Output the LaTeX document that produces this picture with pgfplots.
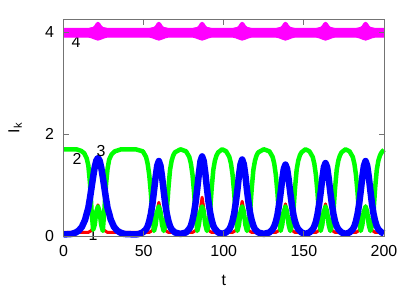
\documentclass[border=0pt]{standalone}
\usepackage{fontspec}
\setmainfont{Liberation Sans}
\usepackage{pgfplots}
\pgfplotsset{compat=1.18}
\definecolor{cR}{RGB}{255,0,0}
\definecolor{cG}{RGB}{0,255,0}
\definecolor{cB}{RGB}{0,0,255}
\definecolor{cM}{RGB}{255,0,255}
\newcommand{\lbl}{\fontsize{16}{18}\selectfont}
\begin{document}
\begin{tikzpicture}
\begin{axis}[
  scale only axis, width=320.5bp, height=216bp,
  xmin=0, xmax=200, ymin=0, ymax=4.235,
  xtick={0,50,100,150,200}, ytick={0,2,4},
  tick align=inside, major tick length=5bp,
  tick style={black!55, line width=0.8bp},
  axis line style={black!55, line width=1bp},
  ticklabel style={font=\lbl},
  /pgf/number format/assume math mode=true,
  xticklabel style={yshift=-6bp},
  yticklabel style={xshift=-6bp},
  xlabel={t}, ylabel={I\textsubscript{k}},
  every axis x label/.style={at={(axis description cs:0.5,-0.204)}, anchor=center, font=\lbl},
  every axis y label/.style={at={(axis description cs:-0.151,0.5)}, anchor=center, rotate=90, font=\lbl},
  clip=false, axis on top,
  every axis plot/.append style={line join=round, mark=none},
]
\node[font=\lbl, inner sep=0pt] at (axis cs:7.8,3.80) {4};
\node[font=\lbl, inner sep=0pt] at (axis cs:18.4,0.02) {1};
% series 1 (red)
\addplot[cR, line width=3bp] coordinates {
(0,0.07) (13,0.07) (15.5,0.07) (17.5,0.11) (18.5,0.17) (19.5,0.28) (20.5,0.48) (21.5,0.61) (22.5,0.48) (23.5,0.28) (24.5,0.17) (25.5,0.11) (27.5,0.07)
(53.5,0.07) (55.5,0.11) (56.5,0.17) (57.5,0.28) (58.5,0.50) (59.5,0.66) (60.5,0.50) (61.5,0.28) (62.5,0.17) (63.5,0.11) (65.5,0.07)
(80.5,0.07) (82.5,0.11) (83.5,0.17) (84.5,0.30) (85.5,0.55) (86.5,0.76) (87.5,0.55) (88.5,0.30) (89.5,0.17) (90.5,0.11) (92.5,0.07)
(105.5,0.07) (107.5,0.11) (108.5,0.17) (109.5,0.29) (110.5,0.50) (111.5,0.68) (112.5,0.50) (113.5,0.29) (114.5,0.17) (115.5,0.11) (117.5,0.07)
(132.5,0.07) (134.5,0.11) (135.5,0.17) (136.5,0.28) (137.5,0.48) (138.5,0.63) (139.5,0.48) (140.5,0.28) (141.5,0.17) (142.5,0.11) (144.5,0.07)
(157.5,0.07) (159.5,0.11) (160.5,0.17) (161.5,0.28) (162.5,0.48) (163.5,0.63) (164.5,0.48) (165.5,0.28) (166.5,0.17) (167.5,0.11) (169.5,0.07)
(182.5,0.07) (184.5,0.11) (185.5,0.17) (186.5,0.28) (187.5,0.46) (188.5,0.59) (189.5,0.46) (190.5,0.28) (191.5,0.17) (192.5,0.11) (194.5,0.07) (200,0.07)
};
% series 2 (green)
\addplot[cG, line width=4.5bp] coordinates {
(0,1.70) (8,1.70) (11,1.67) (13,1.62) (14.5,1.52) (15.5,1.38) (16.5,1.05) (17.5,0.5) (18.5,0.12) (19.5,0.22) (20.5,0.48) (21.5,0.58) (22.5,0.48) (23.5,0.22) (24.5,0.10) (25.5,0.5) (26.5,1.0) (27.5,1.32) (28.5,1.5) (30,1.6) (32,1.66) (36,1.70) (45,1.70)
(49.5,1.66) (51.5,1.55) (52.5,1.42) (53.5,1.20) (54.5,0.85) (55.5,0.40) (56.5,0.10) (57.5,0.22) (58.5,0.48) (59.5,0.58) (60.5,0.48) (61.5,0.22) (62.5,0.10) (63.5,0.20) (64.5,0.50) (65.5,0.95) (66.5,1.30) (67.5,1.48) (68.5,1.58) (69.5,1.64) (73,1.70)
(76.5,1.66) (78.5,1.55) (79.5,1.42) (80.5,1.20) (81.5,0.85) (82.5,0.40) (83.5,0.10) (84.5,0.22) (85.5,0.48) (86.5,0.58) (87.5,0.48) (88.5,0.22) (89.5,0.10) (90.5,0.20) (91.5,0.50) (92.5,0.95) (93.5,1.30) (94.5,1.48) (95.5,1.58) (96.5,1.64) (99,1.70)
(101.5,1.66) (103.5,1.55) (104.5,1.42) (105.5,1.20) (106.5,0.85) (107.5,0.40) (108.5,0.10) (109.5,0.22) (110.5,0.48) (111.5,0.58) (112.5,0.48) (113.5,0.22) (114.5,0.10) (115.5,0.20) (116.5,0.50) (117.5,0.95) (118.5,1.30) (119.5,1.48) (120.5,1.58) (121.5,1.64) (125,1.70)
(128.5,1.66) (130.5,1.55) (131.5,1.42) (132.5,1.20) (133.5,0.85) (134.5,0.40) (135.5,0.10) (136.5,0.22) (137.5,0.48) (138.5,0.58) (139.5,0.48) (140.5,0.22) (141.5,0.10) (142.5,0.20) (143.5,0.50) (144.5,0.95) (145.5,1.30) (146.5,1.48) (147.5,1.58) (148.5,1.64) (151,1.70)
(153.5,1.66) (155.5,1.55) (156.5,1.42) (157.5,1.20) (158.5,0.85) (159.5,0.40) (160.5,0.10) (161.5,0.22) (162.5,0.48) (163.5,0.58) (164.5,0.48) (165.5,0.22) (166.5,0.10) (167.5,0.20) (168.5,0.50) (169.5,0.95) (170.5,1.30) (171.5,1.48) (172.5,1.58) (173.5,1.64) (176,1.70)
(178.5,1.66) (180.5,1.55) (181.5,1.42) (182.5,1.20) (183.5,0.85) (184.5,0.40) (185.5,0.10) (186.5,0.22) (187.5,0.48) (188.5,0.58) (189.5,0.48) (190.5,0.22) (191.5,0.10) (192.5,0.20) (193.5,0.50) (194.5,0.95) (195.5,1.30) (196.5,1.48) (197.5,1.58) (198.5,1.64) (200,1.69)
};
% series 3 (blue)
\addplot[cB, line width=6.5bp] coordinates {
(0,0.03) (5,0.04) (7.5,0.066) (9.5,0.105) (11.5,0.18) (13.5,0.32) (14.5,0.44) (15.5,0.55) (16.5,0.74) (17.5,0.95) (18.5,1.16) (19.5,1.35) (20.5,1.48) (21.5,1.53) (22.5,1.48) (23.5,1.35) (24.5,1.16) (25.5,0.95) (26.5,0.74) (27.5,0.55) (28.5,0.44) (29.5,0.32) (31.5,0.18) (33.5,0.105) (35.5,0.066) (38,0.04) (45,0.03)
(47,0.04) (49.5,0.07) (51.5,0.13) (52.5,0.19) (53.5,0.29) (54.5,0.43) (55.5,0.63) (56.5,0.89) (57.5,1.16) (58.5,1.38) (59.5,1.47) (60.5,1.38) (61.5,1.16) (62.5,0.89) (63.5,0.63) (64.5,0.43) (65.5,0.29) (66.5,0.19) (67.5,0.13) (69.5,0.07) (73,0.04)
(76.5,0.07) (78.5,0.14) (79.5,0.20) (80.5,0.31) (81.5,0.46) (82.5,0.67) (83.5,0.94) (84.5,1.23) (85.5,1.47) (86.5,1.56) (87.5,1.47) (88.5,1.23) (89.5,0.94) (90.5,0.67) (91.5,0.46) (92.5,0.31) (93.5,0.20) (94.5,0.14) (96.5,0.07) (99,0.04)
(101.5,0.07) (103.5,0.13) (104.5,0.20) (105.5,0.30) (106.5,0.44) (107.5,0.65) (108.5,0.90) (109.5,1.19) (110.5,1.41) (111.5,1.50) (112.5,1.41) (113.5,1.19) (114.5,0.90) (115.5,0.65) (116.5,0.44) (117.5,0.30) (118.5,0.20) (119.5,0.13) (121.5,0.07) (125,0.04)
(128.5,0.07) (130.5,0.13) (131.5,0.19) (132.5,0.28) (133.5,0.41) (134.5,0.61) (135.5,0.85) (136.5,1.11) (137.5,1.32) (138.5,1.40) (139.5,1.32) (140.5,1.11) (141.5,0.85) (142.5,0.61) (143.5,0.41) (144.5,0.28) (145.5,0.19) (146.5,0.13) (148.5,0.07) (151,0.04)
(153.5,0.07) (155.5,0.13) (156.5,0.19) (157.5,0.28) (158.5,0.42) (159.5,0.62) (160.5,0.86) (161.5,1.13) (162.5,1.35) (163.5,1.43) (164.5,1.35) (165.5,1.13) (166.5,0.86) (167.5,0.62) (168.5,0.42) (169.5,0.28) (170.5,0.19) (171.5,0.13) (173.5,0.07) (176,0.04)
(178.5,0.07) (180.5,0.13) (181.5,0.19) (182.5,0.29) (183.5,0.43) (184.5,0.63) (185.5,0.89) (186.5,1.16) (187.5,1.38) (188.5,1.47) (189.5,1.38) (190.5,1.16) (191.5,0.89) (192.5,0.63) (193.5,0.43) (194.5,0.29) (195.5,0.19) (196.5,0.13) (198.5,0.07) (200,0.05)
};
% series 4 (magenta) band: upper envelope then lower envelope
\addplot[cM, fill=cM, line width=1bp] coordinates {
(0,4.07) (15.5,4.07) (18.5,4.09) (19.5,4.12) (20.5,4.17) (21.5,4.19) (22.5,4.17) (23.5,4.12) (24.5,4.09) (27.5,4.07)
(53.5,4.07) (56.5,4.09) (57.5,4.12) (58.5,4.17) (59.5,4.19) (60.5,4.17) (61.5,4.12) (62.5,4.09) (65.5,4.07)
(80.5,4.07) (83.5,4.09) (84.5,4.12) (85.5,4.17) (86.5,4.19) (87.5,4.17) (88.5,4.12) (89.5,4.09) (92.5,4.07)
(105.5,4.07) (108.5,4.09) (109.5,4.12) (110.5,4.17) (111.5,4.19) (112.5,4.17) (113.5,4.12) (114.5,4.09) (117.5,4.07)
(132.5,4.07) (135.5,4.09) (136.5,4.12) (137.5,4.17) (138.5,4.19) (139.5,4.17) (140.5,4.12) (141.5,4.09) (144.5,4.07)
(157.5,4.07) (160.5,4.09) (161.5,4.12) (162.5,4.17) (163.5,4.19) (164.5,4.17) (165.5,4.12) (166.5,4.09) (169.5,4.07)
(182.5,4.07) (185.5,4.09) (186.5,4.12) (187.5,4.17) (188.5,4.19) (189.5,4.17) (190.5,4.12) (191.5,4.09) (194.5,4.07) (200,4.07)
(200,3.90) (194.5,3.90) (192.5,3.885) (190.5,3.86) (188.5,3.84) (186.5,3.86) (184.5,3.885) (182.5,3.90)
(169.5,3.90) (167.5,3.885) (165.5,3.86) (163.5,3.84) (161.5,3.86) (159.5,3.885) (157.5,3.90)
(144.5,3.90) (142.5,3.885) (140.5,3.86) (138.5,3.84) (136.5,3.86) (134.5,3.885) (132.5,3.90)
(117.5,3.90) (115.5,3.885) (113.5,3.86) (111.5,3.84) (109.5,3.86) (107.5,3.885) (105.5,3.90)
(92.5,3.90) (90.5,3.885) (88.5,3.86) (86.5,3.84) (84.5,3.86) (82.5,3.885) (80.5,3.90)
(65.5,3.90) (63.5,3.885) (61.5,3.86) (59.5,3.84) (57.5,3.86) (55.5,3.885) (53.5,3.90)
(27.5,3.90) (25.5,3.885) (23.5,3.86) (21.5,3.84) (19.5,3.86) (17.5,3.885) (15.5,3.90) (0,3.90)
} -- cycle;
\node[font=\lbl, inner sep=0pt] at (axis cs:8.4,1.51) {2};
\node[font=\lbl, inner sep=0pt] at (axis cs:23.4,1.67) {3};
\end{axis}
\path ([shift={(-63.5bp,-55bp)}]current axis.south west) rectangle ([shift={(31bp,20bp)}]current axis.north east);
\end{tikzpicture}
\end{document}
